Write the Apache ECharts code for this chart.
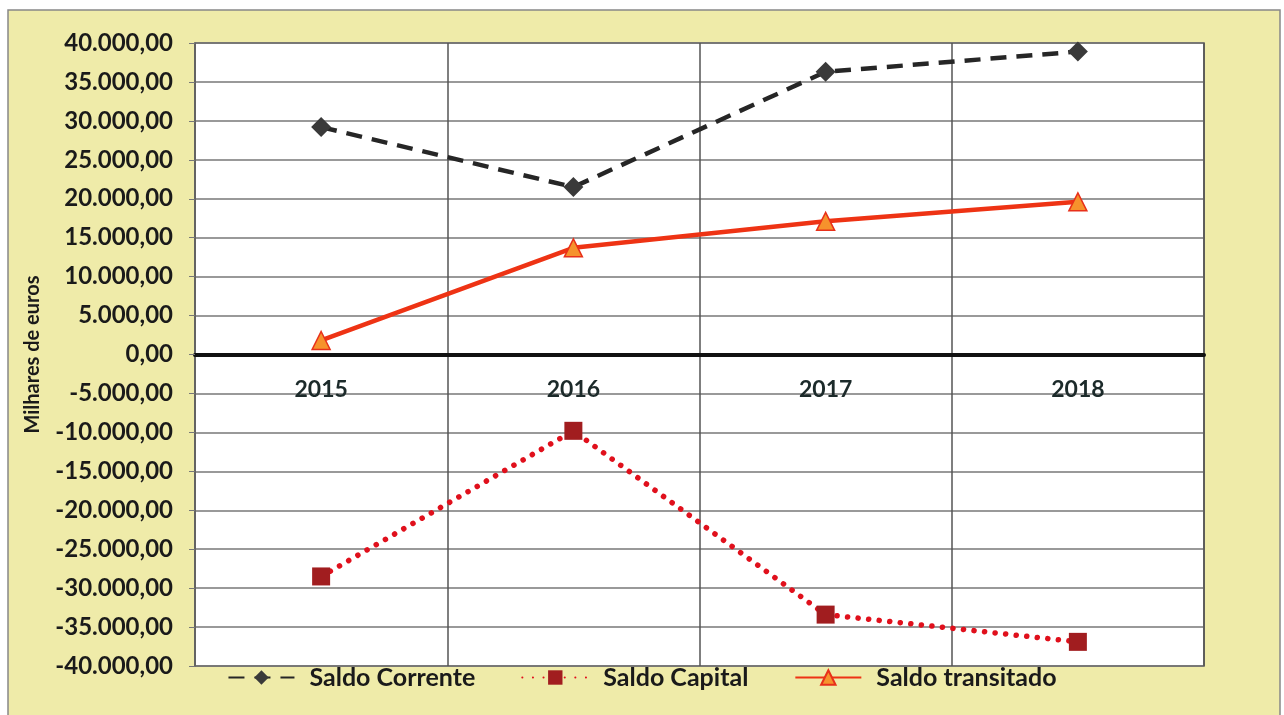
<!DOCTYPE html>
<html>
<head>
<meta charset="utf-8">
<script src="https://cdn.jsdelivr.net/npm/echarts@6/dist/echarts.min.js"></script>
<style>
  html, body { margin: 0; padding: 0; background: #fff; }
  #chart { width: 1284px; height: 715px; }
</style>
</head>
<body>
<div id="chart"></div>
<script>
// dados (milhares de euros)
const years = ["2015", "2016", "2017", "2018"];
const saldoCorrente = [29200, 21500, 36300, 38900];
const saldoCapital = [-28500, -9800, -33400, -36900];
const saldoTransitado = [1800, 13700, 17100, 19600];

const fmt = (v) => {
  const neg = v < 0;
  const s = Math.abs(v).toString().replace(/\B(?=(\d{3})+(?!\d))/g, ".");
  return (neg ? "-" : "") + s + ",00";
};

const H = 715, TOP = 43, BOTTOM = 49;
// eixo das categorias sobre o zero (meio da grelha)
const zeroOffset = -(H - TOP - BOTTOM) / 2;

const myChart = echarts.init(document.getElementById("chart"));

const option = {
  animation: false,
  textStyle: { fontFamily: "Lato", fontWeight: "bold", color: "#1a1a1a" },
  graphic: [
    {
      type: "rect",
      z: -10,
      shape: { x: 8, y: 10, width: 1272, height: 720 },
      style: { fill: "#efeba9", stroke: "#888", lineWidth: 1.5 },
    },
  ],
  grid: {
    left: 195,
    right: 80,
    top: TOP,
    bottom: BOTTOM,
    show: true,
    backgroundColor: "#fff",
    borderColor: "#555",
    borderWidth: 1.5,
  },
  legend: {
    bottom: 20,
    left: "center",
    itemWidth: 66,
    itemHeight: 18,
    itemGap: 46,
    textStyle: {
      fontSize: 25,
      fontWeight: "bold",
      color: "#1a1a1a",
      fontFamily: "Lato",
      padding: [0, 0, 0, 10],
    },
    data: ["Saldo Corrente", "Saldo Capital", "Saldo transitado"],
  },
  xAxis: [
    {
      type: "category",
      data: years,
      boundaryGap: true,
      axisLine: { show: false },
      axisTick: { show: false },
      axisLabel: { show: false },
      splitLine: { show: true, lineStyle: { color: "#555", width: 1.5 } },
    },
    {
      type: "category",
      data: years,
      boundaryGap: true,
      position: "bottom",
      offset: zeroOffset,
      axisLine: { onZero: false, lineStyle: { color: "#111", width: 4 } },
      axisTick: { show: false },
      axisLabel: { fontSize: 23, fontWeight: "bold", color: "#1c2a2a", margin: 24 },
      splitLine: { show: false },
    },
  ],
  yAxis: {
    type: "value",
    min: -40000,
    max: 40000,
    interval: 5000,
    name: "Milhares de euros",
    nameLocation: "middle",
    nameGap: 152,
    nameTextStyle: { fontSize: 20, fontWeight: "bold", color: "#1a1a1a" },
    axisLine: { show: true, lineStyle: { color: "#666", width: 1.5 } },
    axisTick: { show: true, length: 6, lineStyle: { color: "#777" } },
    axisLabel: { fontSize: 24, fontWeight: "bold", color: "#1a1a1a", margin: 22, formatter: fmt },
    splitLine: { lineStyle: { color: "#777", width: 1.5 } },
  },
  series: [
    {
      name: "Saldo Corrente",
      type: "line",
      data: saldoCorrente,
      symbol: "diamond",
      symbolSize: 20,
      itemStyle: { color: "#3a3a3a" },
      lineStyle: { color: "#262626", width: 4.5, type: [16, 10] },
    },
    {
      name: "Saldo Capital",
      type: "line",
      data: saldoCapital,
      symbol: "rect",
      symbolSize: 18,
      itemStyle: { color: "#a11d1f" },
      lineStyle: { color: "#e0101c", width: 5.5, type: [0.1, 10.5], cap: "round" },
    },
    {
      name: "Saldo transitado",
      type: "line",
      data: saldoTransitado,
      symbol: "triangle",
      symbolSize: 18,
      itemStyle: { color: "#f6922c", borderColor: "#e8301a", borderWidth: 1.5 },
      lineStyle: { color: "#ee3314", width: 4.5 },
    },
  ],
};

option && myChart.setOption(option);
</script>
</body>
</html>
